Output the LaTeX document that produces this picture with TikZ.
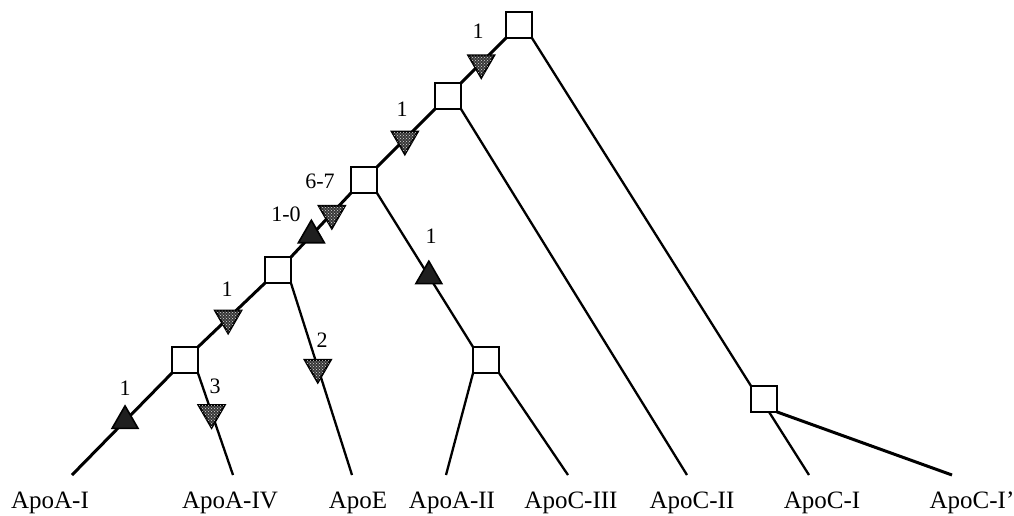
\documentclass[tikz,border=0pt]{standalone}
\usepackage{fontspec}
\setmainfont{Liberation Serif}
\usetikzlibrary{shapes.geometric,patterns}
\begin{document}
\begin{tikzpicture}[x=1pt,y=-1pt,
  sq/.style={draw,fill=white,line width=1.8pt,minimum size=24pt,inner sep=0pt},
  spine/.style={line width=3pt},
  branch/.style={line width=2.3pt},
  uptri/.style={regular polygon,regular polygon sides=3,minimum size=30pt,inner sep=0pt,
    draw,line width=1.6pt,fill=black!88},
  dntri/.style={regular polygon,regular polygon sides=3,shape border rotate=180,minimum size=30pt,
    inner sep=0pt,draw,line width=2pt,fill=black!78,
    postaction={pattern=crosshatch dots,pattern color=white!85!black}},
  leaf/.style={anchor=base,inner sep=0pt,font=\fontsize{25}{30}\selectfont},
  cnt/.style={inner sep=0pt,font=\fontsize{22}{26}\selectfont}]
\useasboundingbox (0,0) rectangle (1014,515);

% internal nodes of the tree
\node[sq] (root) at (519,25) {};
\node[sq] (b2) at (448,96) {};
\node[sq] (b3) at (364,180) {};
\node[sq] (b4) at (278,270) {};
\node[sq] (b5) at (185,360) {};
\node[sq] (ba2) at (486,360) {};
\node[sq] (bc1) at (764,399) {};

% free ends of the terminal branches
\coordinate (eA1) at (72,475);
\coordinate (eA4) at (233,475);
\coordinate (eE) at (352,475);
\coordinate (eA2) at (446,475);
\coordinate (eC3) at (568,475);
\coordinate (eC2) at (687,475);
\coordinate (eC1) at (809,475);
\coordinate (eC1p) at (952,475);

% branches
\draw[spine] (b5.south west) -- (eA1);
\draw[branch] (b5.south east) -- (eA4);
\draw[spine] (b5.north east) -- (b4.south west);
\draw[branch] (b4.south east) -- (eE);
\draw[spine] (b4.north east) -- (b3.south west);
\draw[branch] (b3.south east) -- (ba2.north west);
\draw[branch] (ba2.south west) -- (eA2);
\draw[branch] (ba2.south east) -- (eC3);
\draw[spine] (b3.north east) -- (b2.south west);
\draw[branch] (b2.south east) -- (eC2);
\draw[spine] (b2.north east) -- (root.south west);
\draw[branch] (root.south east) -- (bc1.north west);
\draw[branch] ([xshift=5pt]bc1.south) -- (eC1);
\draw[spine] (bc1.south east) -- (eC1p);

% redraw boxes on top of the branches
\foreach \n in {root,b2,b3,b4,b5,ba2,bc1}
  \draw[line width=1.8pt,fill=white] (\n.south west) rectangle (\n.north east);

% character changes along the branches
\path (b5.south west) -- node[uptri,pos=0.47] (t1) {} (eA1);
\path (b5.south east) -- node[dntri,pos=0.39] (t2) {} (eA4);
\path (b5.north east) -- node[dntri,pos=0.45] (t3) {} (b4.south west);
\path (b4.south east) -- node[dntri,pos=0.44] (t4) {} (eE);
\path (b4.north east) -- node[uptri,pos=0.34] (t5) {} (b3.south west);
\path (b4.north east) -- node[dntri,pos=0.68] (t6) {} (b3.south west);
\path (b3.south east) -- node[uptri,pos=0.54] (t7) {} (ba2.north west);
\path (b3.north east) -- node[dntri,pos=0.48] (t8) {} (b2.south west);
\path (b2.north east) -- node[dntri,pos=0.45] (t9) {} (root.south west);

% counts
\node[cnt] (n1) at (125,388) {1};
\node[cnt] (n2) at (215,386) {3};
\node[cnt] (n3) at (227,289) {1};
\node[cnt] (n4) at (322,340) {2};
\node[cnt] (n5) at (286,214) {1-0};
\node[cnt] (n6) at (320,181) {6-7};
\node[cnt] (n7) at (431,236) {1};
\node[cnt] (n8) at (402,109) {1};
\node[cnt] (n9) at (478,31) {1};

% leaf labels
\node[leaf] (lA1) at (50,508) {ApoA-I};
\node[leaf] (lA4) at (230,508) {ApoA-IV};
\node[leaf] (lE) at (358,508) {ApoE};
\node[leaf] (lA2) at (452,508) {ApoA-II};
\node[leaf] (lC3) at (571,508) {ApoC-III};
\node[leaf] (lC2) at (692,508) {ApoC-II};
\node[leaf] (lC1) at (822,508) {ApoC-I};
\node[leaf] (lC1p) at (972,508) {ApoC-I’};
\end{tikzpicture}
\end{document}
